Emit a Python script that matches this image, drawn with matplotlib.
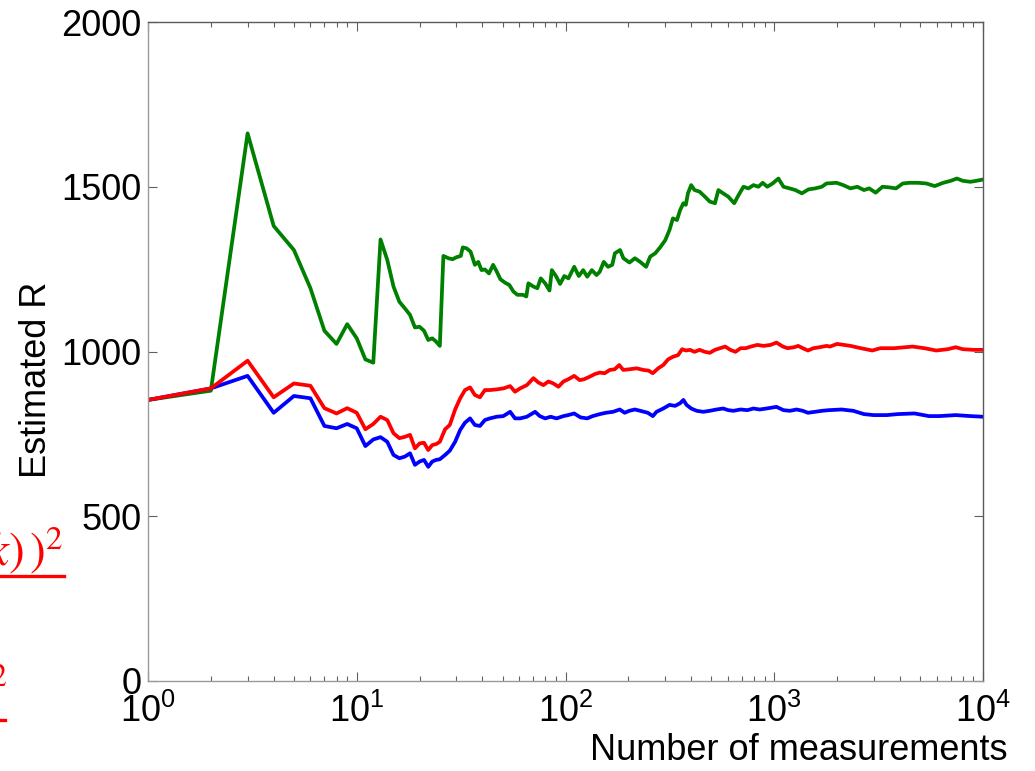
import matplotlib
matplotlib.use("Agg")
import matplotlib.pyplot as plt
from matplotlib.lines import Line2D
from matplotlib.ticker import LogLocator, LogFormatterMathtext, FixedLocator, NullFormatter

plt.rcParams['font.family'] = ['Liberation Sans', 'DejaVu Sans']
plt.rcParams['mathtext.fontset'] = 'custom'
plt.rcParams['mathtext.rm'] = 'Liberation Sans'
plt.rcParams['mathtext.it'] = 'Liberation Sans:italic'

# ---------------- data ----------------
green_n = [1, 2, 3, 4, 5, 6, 7, 8, 9, 10, 11, 12, 13, 14, 15, 16, 17, 18, 19, 20, 21, 22, 23, 24, 25,
           26, 27.5, 28.8, 30, 31.5, 32.2, 33.6, 35.1, 36.8, 38.2, 39.6, 41.1, 43, 45, 46.8, 48.8, 51.3,
           53.8, 56.3, 58.8, 62.6, 64.9, 66.4, 70.2, 73.3, 76.1, 79.9, 83.8, 86, 90, 94.2, 98.7, 103.3,
           110.1, 115.8, 121.5, 127.1, 133.7, 140.8, 145.9, 152.5, 159.9, 167.5, 172.4, 182.5, 189.4,
           202.5, 215, 227.8, 243.4, 254.5, 269, 284, 300.6, 315, 327, 342, 354, 367, 377, 386, 400,
           415, 439, 465, 491, 520, 540, 569, 602, 643, 675, 712, 752, 795, 840, 880, 926, 982, 1047,
           1107, 1185, 1262, 1356, 1458, 1570, 1690, 1780, 1990, 2140, 2320, 2500, 2690, 2850, 3060,
           3300, 3560, 3830, 4130, 4440, 4880, 5350, 5870, 6450, 7000, 7500, 8000, 8700, 9300, 10000]
green_r = [853, 881, 1662, 1381, 1308, 1192, 1063, 1023, 1083, 1040, 976, 966, 1340, 1278, 1197, 1151,
           1131, 1111, 1073, 1075, 1063, 1035, 1040, 1030, 1017,
           1290, 1283, 1280, 1286, 1290, 1316, 1313, 1303, 1263, 1272, 1247, 1249, 1237, 1263, 1243, 1219,
           1209, 1202, 1182, 1172, 1172, 1167, 1207, 1197, 1192, 1222, 1207, 1185, 1247, 1229, 1205,
           1229, 1222, 1257, 1229, 1247, 1227, 1247, 1232, 1242, 1272, 1257, 1263, 1298, 1308, 1283,
           1270, 1283, 1272, 1257, 1288, 1298, 1316, 1338, 1369, 1404, 1399, 1429, 1450, 1445, 1480,
           1505, 1490, 1485, 1470, 1455, 1450, 1490, 1480, 1470, 1450, 1475, 1500, 1495, 1505, 1500,
           1512, 1500, 1510, 1525, 1500, 1495, 1490, 1480, 1492, 1495, 1500, 1510, 1512, 1505, 1495,
           1500, 1490, 1495, 1482, 1500, 1498, 1495, 1510, 1512, 1512, 1510, 1502, 1512, 1518, 1525,
           1518, 1515, 1518, 1522]

red_n = [1, 2, 3, 4, 5, 6, 7, 8, 9, 10, 11, 12, 13, 14, 15, 16, 17, 18, 19, 20, 21, 22, 23, 24, 25,
         26.5, 27.9, 29.6, 31.3, 33, 34.9, 36.8, 38.9, 41.1, 43.4, 46.8, 50.4, 54.3, 57.3, 60.6, 65.3,
         70.2, 74.1, 78.4, 82.8, 87.5, 92.5, 97.8, 103.3, 110, 117, 122.9, 130, 138.8, 146, 154, 163,
         172, 181, 189, 202, 219, 236, 250, 262, 278, 294, 310, 327, 346, 362, 377, 395, 415, 439, 465,
         491, 520, 550, 582, 616, 652, 690, 730, 773, 830, 890, 960, 1025, 1100, 1160, 1245, 1303, 1370,
         1450, 1540, 1650, 1780, 1850, 2000, 2320, 2600, 2950, 3220, 3760, 4600, 5240, 5970, 6780,
         7400, 8000, 9000, 10000]
red_r = [853, 888, 972, 861, 903, 896, 828, 812, 828, 814, 764, 780, 802, 792, 752, 737, 741, 747, 706,
         721, 723, 701, 716, 719, 726,
         764, 777, 824, 858, 883, 891, 868, 861, 883, 883, 885, 888, 895, 878, 888, 898, 919, 906, 898,
         909, 903, 893, 909, 916, 926, 913, 916, 923, 932, 936, 934, 944, 946, 959, 944, 946, 949, 944,
         942, 934, 949, 959, 976, 984, 989, 1007, 1003, 1005, 999, 1005, 999, 996, 1005, 1010, 1015,
         1005, 999, 1010, 1010, 1015, 1020, 1017, 1020, 1027, 1015, 1010, 1013, 1017, 1010, 1003, 1010,
         1013, 1017, 1015, 1023, 1017, 1010, 1003, 1010, 1010, 1015, 1010, 1003, 1007, 1013, 1007, 1005,
         1005]

blue_n = [1, 2, 3, 4, 5, 6, 7, 8, 9, 10, 11, 12, 13, 14, 15, 16, 17, 18, 19, 20, 21, 22, 23, 24, 25,
          26.5, 27.9, 29.6, 31.3, 33, 34.9, 36.8, 38.9, 41.1, 43.4, 46.8, 50.4, 54.3, 57.3, 60.6, 65.3,
          71.5, 75.3, 79.9, 84.9, 90.6, 97.8, 103, 110, 118, 127, 135, 146, 156, 169, 182, 192, 202,
          215, 228, 248, 262, 273, 294, 315, 335, 354, 367, 380, 400, 425, 457, 491, 529, 569, 602, 637,
          690, 743, 795, 852, 918, 1025, 1107, 1188, 1279, 1370, 1450, 1570, 1690, 1830, 2100, 2390,
          2690, 2990, 3460, 3900, 4700, 5500, 6200, 7400, 8700, 10000]
blue_r = [853, 888, 926, 814, 865, 858, 774, 767, 780, 767, 713, 733, 740, 726, 686, 676, 681, 691, 656,
          666, 671, 650, 666, 671, 673,
          686, 699, 726, 762, 784, 797, 777, 774, 792, 797, 802, 804, 817, 797, 797, 802, 817, 804, 797,
          802, 797, 804, 807, 812, 800, 797, 804, 810, 814, 817, 824, 814, 820, 824, 820, 814, 804, 817,
          827, 838, 835, 843, 853, 838, 827, 820, 817, 820, 824, 827, 822, 820, 824, 822, 827, 824, 827,
          832, 822, 820, 824, 820, 814, 817, 820, 822, 824, 820, 810, 807, 807, 810, 812, 804, 804, 807,
          804, 802]

y_ticks = [0, 500, 1000, 1500, 2000]
x_label = "Number of measurements"
y_label = "Estimated R"

# ---------------- figure ----------------
W, H = 1035, 771
fig = plt.figure(figsize=(W / 100, H / 100), dpi=100)
ax = fig.add_axes([148 / W, 1 - 681 / H, (983 - 148) / W, (681 - 22) / H])

lw = 2.7
ax.plot(green_n, green_r, color='#008000', lw=lw, solid_joinstyle='round')
ax.plot(blue_n, blue_r, color='#0000ff', lw=lw, solid_joinstyle='round')
ax.plot(red_n, red_r, color='#ff0000', lw=lw, solid_joinstyle='round')

ax.set_xscale('log')
ax.set_xlim(1, 1e4)
ax.set_ylim(0, 2000)
ax.yaxis.set_major_locator(FixedLocator(y_ticks))
ax.xaxis.set_major_locator(LogLocator(base=10, numticks=10))
ax.xaxis.set_minor_locator(LogLocator(base=10, subs=range(2, 10), numticks=100))
ax.xaxis.set_major_formatter(LogFormatterMathtext())
ax.xaxis.set_minor_formatter(NullFormatter())

for s in ['left', 'bottom']:
    ax.spines[s].set_color('#9a9a9a')
for s in ['top', 'right']:
    ax.spines[s].set_color('#5a5a5a')
for s in ax.spines.values():
    s.set_linewidth(1.0)

ax.tick_params(which='both', direction='in', top=True, right=True, color='#606060', width=0.8)
ax.tick_params(which='major', length=6.5)
ax.tick_params(which='minor', length=3.6)
ax.tick_params(axis='y', labelsize=26, pad=4.5)
ax.tick_params(axis='x', labelsize=26, pad=9)

fig.text(799 / W, 1 - 750 / H, x_label, fontsize=26, ha='center', va='center')
fig.text(37 / W, 1 - 380 / H, y_label, fontsize=26, ha='center', va='center', rotation=90)

# clipped red formula fragments at the left edge
fig.text(64 / W, 1 - 566 / H, r"$\sum(y(k)-\hat{y}(k)\,)^2$", color='red', fontsize=34,
         ha='right', va='baseline', math_fontfamily='stix')
fig.add_artist(Line2D([-20 / W, 64 / W], [1 - 575.5 / H, 1 - 575.5 / H], color='red', lw=2.4,
                      transform=fig.transFigure))
fig.text(8 / W, 1 - 703 / H, r"$\sigma^2$", color='red', fontsize=33,
         ha='right', va='baseline', math_fontfamily='stix')
fig.add_artist(Line2D([-20 / W, 5 / W], [1 - 720 / H, 1 - 720 / H], color='red', lw=2.4,
                      transform=fig.transFigure))

fig.savefig("out.png", dpi=100)
